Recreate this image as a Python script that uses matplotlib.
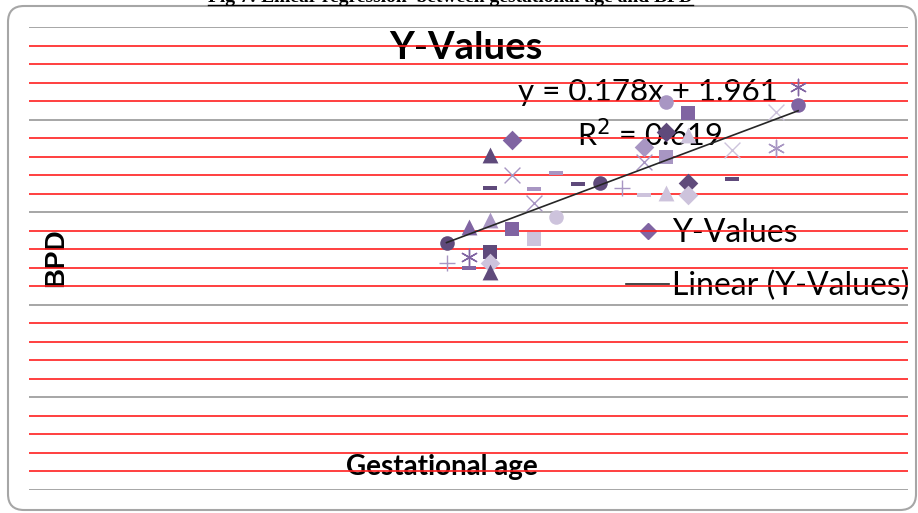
import matplotlib
matplotlib.use("Agg")
import matplotlib.pyplot as plt
import numpy as np
from matplotlib.lines import Line2D
from matplotlib.patches import FancyBboxPatch
from matplotlib.path import Path

# gestational age (weeks) and BPD (cm)
weeks = [19, 19, 20, 20, 20, 21, 21, 21, 21, 21, 21, 22, 22, 22, 23, 23, 23,
         24, 24, 25, 26, 27, 28, 28, 28, 29, 29, 29, 29, 30, 30, 30, 30, 32,
         32, 34, 34, 35, 35]
bpd = [5.33, 4.91, 5.69, 5.04, 4.79, 7.24, 6.53, 5.83, 5.13, 4.90, 4.71,
       7.56, 6.80, 5.63, 6.50, 6.20, 5.42, 6.85, 5.90, 6.60, 6.62, 6.52,
       7.41, 7.09, 6.37, 8.39, 7.74, 7.19, 6.41, 8.14, 7.67, 6.62, 6.37,
       7.34, 6.72, 8.17, 7.38, 8.71, 8.32]

# Excel "vary colors by point" styling
point_markers = ["o", "+", "^", "*", "-", "^", "-", "^", "s", "D", "^",
                 "D", "x", "s", "-", "x", "s", "-", "o", "-", "o", "+",
                 "D", "x", "-", "o", "D", "s", "^", "s", "^", "D", "D",
                 "x", "-", "x", "*", "*", "o"]
point_shades = ["d", "l", "m", "m", "m", "d", "d", "l", "d", "p", "d",
                "m", "l", "m", "l", "l", "p", "l", "p", "d", "d", "l",
                "l", "l", "p", "l", "d", "l", "p", "m", "p", "d", "p",
                "p", "d", "p", "l", "m", "m"]

slope, intercept, r2 = 0.178, 1.961, 0.619

shades = {"d": "#5f4a7b", "m": "#8064a2", "l": "#a896c3", "p": "#cdc3dc"}
dash = Path([(-1, -0.3), (1, -0.3), (1, 0.3), (-1, 0.3), (-1, -0.3)],
            [Path.MOVETO, Path.LINETO, Path.LINETO, Path.LINETO, Path.CLOSEPOLY])
marker_map = {"o": ("o", 110), "+": ("+", 140), "^": ("^", 130), "*": ((6, 2, 0), 140),
              "-": (dash, 110), "s": ("s", 115), "D": ("D", 100), "x": ("x", 130)}

W, H = 918, 513
fig = plt.figure(figsize=(W / 100, H / 100), dpi=100)
fig.patch.set_facecolor("white")


def fx(px):
    return px / W


def fy(py):
    return 1 - py / H


ax = fig.add_axes([fx(29), fy(490), fx(908) - fx(29), fy(27) - fy(490)])
ax.set_xlim(0, 40)
ax.set_ylim(0, 10)
for s in ax.spines.values():
    s.set_visible(False)
ax.set_xticks([])
ax.set_yticks([])

major = np.arange(0, 10.01, 2)
minor = [v for v in np.arange(0, 10.01, 0.4) if abs(v / 2 - round(v / 2)) > 1e-6]
ax.hlines(major, 0, 40, color="#a6a6a6", lw=1.4, zorder=1)
ax.hlines(minor, 0, 40, color="#ff1f1f", lw=1.2, zorder=6)

xs = np.array(weeks)
ys = np.array(bpd)
for i in range(len(xs)):
    m, size = marker_map[point_markers[i]]
    col = shades[point_shades[i]]
    lw = 1.0 if point_markers[i] in ("+", "x", "*") else 0
    ax.scatter(xs[i], ys[i], marker=m, s=size, color=col, linewidths=lw, zorder=7)

tx = np.array([xs.min(), xs.max()])
ax.plot(tx, slope * tx + intercept, color="#262626", lw=1.2, zorder=8)

fam = ["Lato", "DejaVu Sans"]
ax.text(fx(466), fy(48), "Y-Values", transform=fig.transFigure, ha="center", va="center",
        fontsize=27.5, fontweight="bold", family=fam, zorder=3)
ax.text(fx(648), fy(92), f"y = {slope}x + {intercept}", transform=fig.transFigure,
        ha="center", va="center", fontsize=22.5, family=fam, zorder=3)
ax.text(fx(650), fy(135), f"R$^2$ = {r2}", transform=fig.transFigure,
        ha="center", va="center", fontsize=22, family=fam, zorder=3)
ax.text(fx(56), fy(258), "BPD", transform=fig.transFigure, rotation=90,
        ha="center", va="center", fontsize=20, fontweight="bold",
        family=["Liberation Sans", "DejaVu Sans"], zorder=3)
ax.text(fx(442), fy(467), "Gestational age", transform=fig.transFigure,
        ha="center", va="center", fontsize=20, fontweight="bold", family=fam, zorder=3)

handles = [Line2D([], [], marker="D", color="#8064a2", ls="none", markersize=8),
           Line2D([], [], color="#262626", lw=1.2)]
leg = ax.legend(handles, ["Y-Values", "Linear (Y-Values)"], loc="upper left",
                bbox_to_anchor=(fx(626), fy(218)), bbox_transform=fig.transFigure,
                frameon=False, prop={"family": fam, "size": 23}, handlelength=1.35,
                handletextpad=0.1, labelspacing=0.72, borderpad=0, borderaxespad=0)
leg.set_zorder(3)

# chart frame and the clipped caption above it
fig.patches.append(FancyBboxPatch((8, H - 510), 908, 504, boxstyle="round,pad=0,rounding_size=16",
                                  transform=None, facecolor="none", edgecolor="#a6a6a6", lw=1.5))
fig.text(fx(450), fy(2), "Fig 7: Linear regression  between gestational age and BPD",
         ha="center", va="baseline", fontsize=14, fontweight="bold",
         family=["Liberation Serif", "DejaVu Serif"])
fig.add_artist(Line2D([fx(208), fx(693)], [fy(5), fy(5)], transform=fig.transFigure,
                      color="black", lw=1))

fig.savefig("out.png", dpi=100)
